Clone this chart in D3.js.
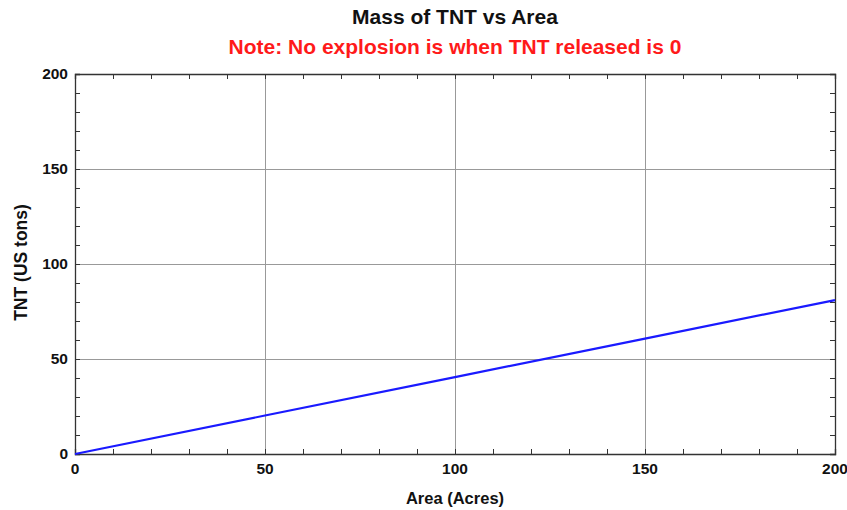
<!DOCTYPE html>
<html><head><meta charset="utf-8">
<script src="https://cdn.jsdelivr.net/npm/d3@7"></script>
<style>body{margin:0;background:#fff;}svg{display:block;font-family:"Liberation Sans",Arial,sans-serif;}</style>
</head><body>
<svg id="chart" width="847" height="510"></svg>
<script>
const areaValues = [0, 50, 100, 150, 200];
const tntValues = [0, 20.25, 40.5, 60.75, 81];
const majorTicks = [0, 50, 100, 150, 200];
const minorTicks = d3.range(0, 201, 10);
const titleText = "Mass of TNT vs Area";
const noteText = "Note: No explosion is when TNT released is 0";
const xLabel = "Area (Acres)";
const yLabel = "TNT (US tons)";

(function(){
const svg = d3.select("#chart");
const m = {l:75, r:12, t:74, b:56};
const W = 847, H = 510;
const x = d3.scaleLinear().domain([0,200]).range([m.l, W-m.r]);
const y = d3.scaleLinear().domain([0,200]).range([H-m.b, m.t]);

// grid
svg.append("g").selectAll("line").data(majorTicks).join("line")
  .attr("x1", d=>x(d)).attr("x2", d=>x(d)).attr("y1", y(0)).attr("y2", y(200))
  .attr("stroke", "#999").attr("stroke-width", 1).attr("shape-rendering","crispEdges");
svg.append("g").selectAll("line").data(majorTicks).join("line")
  .attr("y1", d=>y(d)).attr("y2", d=>y(d)).attr("x1", x(0)).attr("x2", x(200))
  .attr("stroke", "#999").attr("stroke-width", 1).attr("shape-rendering","crispEdges");

// axes with inward ticks
const gB = svg.append("g").attr("transform", `translate(0,${y(0)})`)
  .call(d3.axisBottom(x).tickValues(minorTicks).tickSize(-5).tickFormat(""));
const gT = svg.append("g").attr("transform", `translate(0,${y(200)})`)
  .call(d3.axisTop(x).tickValues(minorTicks).tickSize(-5).tickFormat(""));
const gL = svg.append("g").attr("transform", `translate(${x(0)},0)`)
  .call(d3.axisLeft(y).tickValues(minorTicks).tickSize(-5).tickFormat(""));
const gR = svg.append("g").attr("transform", `translate(${x(200)},0)`)
  .call(d3.axisRight(y).tickValues(minorTicks).tickSize(-5).tickFormat(""));
[gB, gT, gL, gR].forEach(g => {
  g.selectAll("path").attr("stroke", "#333").attr("stroke-width", 1.3);
  g.selectAll("line").attr("stroke", "#333");
});

// tick labels
svg.append("g").selectAll("text").data(majorTicks).join("text")
  .attr("x", d=>x(d)).attr("y", y(0)+19.5).attr("text-anchor","middle")
  .attr("font-size", 15.5).attr("font-weight","bold").attr("fill","#111").text(d=>d);
svg.append("g").selectAll("text").data(majorTicks).join("text")
  .attr("x", x(0)-7).attr("y", d=>y(d)+5).attr("text-anchor","end")
  .attr("font-size", 15.5).attr("font-weight","bold").attr("fill","#111").text(d=>d);

// line
const pts = areaValues.map((a,i)=>[a, tntValues[i]]);
svg.append("path").datum(pts)
  .attr("d", d3.line().x(d=>x(d[0])).y(d=>y(d[1])))
  .attr("fill","none").attr("stroke","#1a1aff").attr("stroke-width", 2.2);

// titles
svg.append("text").attr("x", (x(0)+x(200))/2).attr("y", 24).attr("text-anchor","middle")
  .attr("font-size", 21).attr("font-weight","bold").attr("fill","#111").text(titleText);
svg.append("text").attr("x", (x(0)+x(200))/2).attr("y", 54).attr("text-anchor","middle")
  .attr("font-size", 21).attr("font-weight","bold").attr("fill","#ff1a1a").text(noteText);
svg.append("text").attr("x", (x(0)+x(200))/2).attr("y", 504).attr("text-anchor","middle")
  .attr("font-size", 16.5).attr("font-weight","bold").attr("fill","#111").text(xLabel);
svg.append("text").attr("transform", `translate(27,${(y(0)+y(200))/2 - 1.5}) rotate(-90)`)
  .attr("text-anchor","middle")
  .attr("font-size", 17.5).attr("font-weight","bold").attr("fill","#111").text(yLabel);
})();
</script>
</body></html>
